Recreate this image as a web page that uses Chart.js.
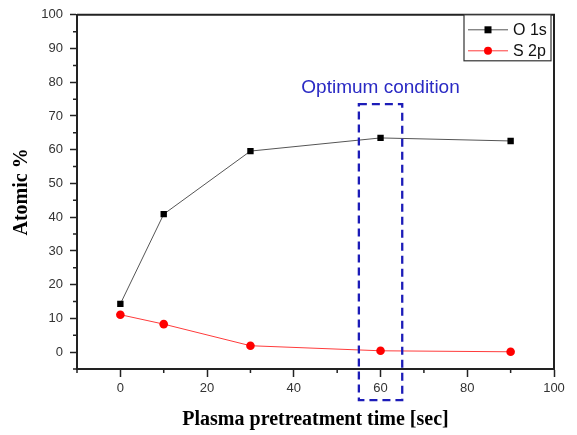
<!DOCTYPE html>
<html><head><meta charset="utf-8">
<script src="https://cdn.jsdelivr.net/npm/chart.js@4.4.0/dist/chart.umd.min.js"></script>
<style>html,body{margin:0;padding:0;background:#fff;}#wrap{width:577px;height:435px;}</style>
</head><body><div id="wrap"><canvas id="c" width="577" height="435"></canvas></div>
<script>
const times = [0, 10, 30, 60, 90];
const o1s = [14.3, 40.9, 59.6, 63.5, 62.6];
const s2p = [11.1, 8.3, 1.9, 0.4, 0.1];
const seriesNames = ['O 1s', 'S 2p'];
const xTickValues = [0, 20, 40, 60, 80, 100];
const yTickValues = [0, 10, 20, 30, 40, 50, 60, 70, 80, 90, 100];
const xMinorTicks = [-10, 10, 30, 50, 70, 90];
const yMinorTicks = [-5, 5, 15, 25, 35, 45, 55, 65, 75, 85, 95];
const optimumX = [55, 65];
const optimumY = [73.5, -14.2];
const optimumLabel = 'Optimum condition';
const xTitle = 'Plasma pretreatment time [sec]';
const yTitle = 'Atomic %';

const AXIS = '#222';
const tickFont = {family: "'Liberation Sans', Arial, sans-serif", size: 13};
const titleFont = {family: "'Liberation Serif', 'Times New Roman', serif", size: 20, weight: 'bold'};

const extras = {
  id: 'extras',
  afterDraw(chart) {
    const ctx = chart.ctx, a = chart.chartArea;
    const xs = chart.scales.x, ys = chart.scales.y;
    ctx.save();
    // frame top & right
    ctx.strokeStyle = AXIS; ctx.lineWidth = 2;
    ctx.beginPath();
    ctx.moveTo(a.left, a.top); ctx.lineTo(a.right, a.top); ctx.lineTo(a.right, a.bottom);
    ctx.stroke();
    // minor ticks
    ctx.lineWidth = 1.5;
    ctx.beginPath();
    xMinorTicks.forEach(v => { const p = xs.getPixelForValue(v); ctx.moveTo(p, a.bottom); ctx.lineTo(p, a.bottom + 4); });
    yMinorTicks.forEach(v => { const p = ys.getPixelForValue(v); ctx.moveTo(a.left, p); ctx.lineTo(a.left - 4, p); });
    ctx.stroke();
    // optimum box
    const x1 = xs.getPixelForValue(optimumX[0]), x2 = xs.getPixelForValue(optimumX[1]);
    const y1 = ys.getPixelForValue(optimumY[0]), y2 = ys.getPixelForValue(optimumY[1]);
    ctx.strokeStyle = '#1c1cb8'; ctx.lineWidth = 2.3; ctx.setLineDash([8, 5]);
    ctx.strokeRect(x1, y1, x2 - x1, y2 - y1);
    ctx.setLineDash([]);
    ctx.fillStyle = '#2a2ac4';
    ctx.font = "19px 'Liberation Sans', Arial, sans-serif";
    ctx.textAlign = 'center'; ctx.textBaseline = 'middle';
    ctx.fillText(optimumLabel, (x1 + x2) / 2, y1 - 16);
    // legend
    const lw = 87, lh = 46;
    const lx = a.right - 3 - lw, ly = a.top;
    ctx.fillStyle = '#fff'; ctx.fillRect(lx, ly, lw, lh);
    ctx.strokeStyle = '#333'; ctx.lineWidth = 1.2; ctx.strokeRect(lx, ly, lw, lh);
    chart.data.datasets.forEach((ds, i) => {
      const cy = ly + 15 + i * 21;
      ctx.strokeStyle = ds.borderColor; ctx.lineWidth = 1;
      ctx.beginPath(); ctx.moveTo(lx + 4, cy); ctx.lineTo(lx + 44, cy); ctx.stroke();
      ctx.fillStyle = ds.pointBackgroundColor;
      if (ds.pointStyle === 'rect') { ctx.fillRect(lx + 24 - 3.5, cy - 3.5, 7, 7); }
      else { ctx.beginPath(); ctx.arc(lx + 24, cy, 4, 0, Math.PI * 2); ctx.fill(); }
      ctx.fillStyle = '#111'; ctx.textAlign = 'left'; ctx.textBaseline = 'middle';
      ctx.font = "16px 'Liberation Sans', Arial, sans-serif";
      ctx.fillText(ds.label, lx + 49, cy + 1);
    });
    ctx.restore();
  }
};

new Chart(document.getElementById('c'), {
  type: 'line',
  data: {
    datasets: [
      {label: seriesNames[0], data: times.map((t, i) => ({x: t, y: o1s[i]})),
       borderColor: '#555', borderWidth: 1, pointStyle: 'rect', pointRadius: 4.5,
       pointBackgroundColor: '#000', pointBorderColor: '#000', pointBorderWidth: 0, tension: 0},
      {label: seriesNames[1], data: times.map((t, i) => ({x: t, y: s2p[i]})),
       borderColor: '#ff3b3b', borderWidth: 1, pointStyle: 'circle', pointRadius: 4.3,
       pointBackgroundColor: '#f00', pointBorderColor: '#f00', pointBorderWidth: 0, tension: 0}
    ]
  },
  options: {
    responsive: false, animation: false,
    layout: {padding: {top: 13, right: 23, left: 0, bottom: 0}},
    plugins: {legend: {display: false}, tooltip: {enabled: false}},
    scales: {
      x: {
        type: 'linear', min: -10, max: 100,
        afterBuildTicks: s => { s.ticks = xTickValues.map(v => ({value: v})); },
        afterFit: s => { s.height = 66; },
        ticks: {font: tickFont, color: '#333', padding: 4, maxRotation: 0},
        grid: {drawOnChartArea: false, drawTicks: true, tickLength: 8, tickColor: AXIS, tickWidth: 1.5},
        border: {display: true, color: AXIS, width: 2},
        title: {display: true, text: xTitle, font: titleFont, color: '#000', padding: {top: 0, bottom: 3}}
      },
      y: {
        type: 'linear', min: -5, max: 100,
        afterBuildTicks: s => { s.ticks = yTickValues.map(v => ({value: v})); },
        afterFit: s => { s.width = 77; },
        ticks: {font: tickFont, color: '#333', padding: 7},
        grid: {drawOnChartArea: false, drawTicks: true, tickLength: 7, tickColor: AXIS, tickWidth: 1.5},
        border: {display: true, color: AXIS, width: 2},
        title: {display: true, text: yTitle, font: titleFont, color: '#000', padding: {top: 10, bottom: 0}}
      }
    }
  },
  plugins: [extras]
});
</script></body></html>
